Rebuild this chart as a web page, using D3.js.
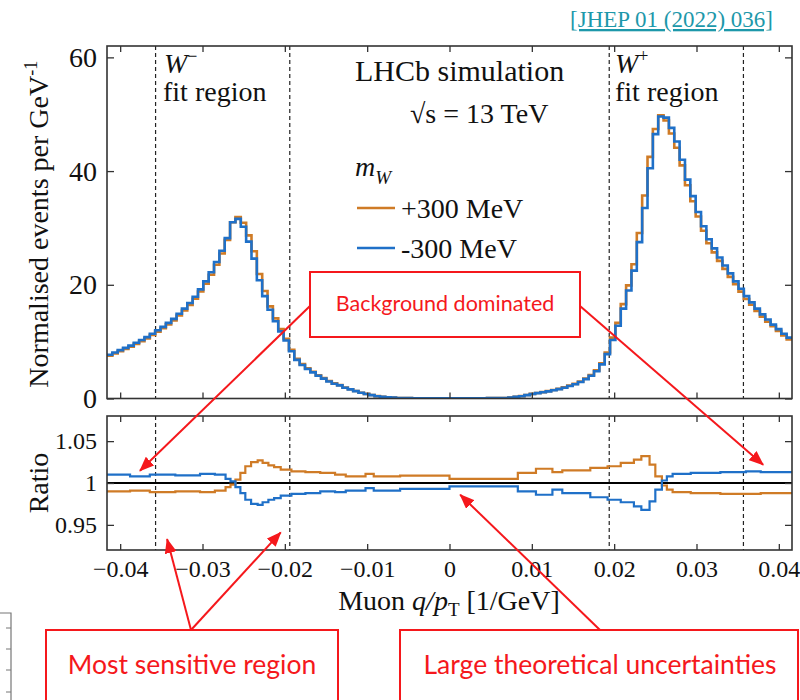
<!DOCTYPE html>
<html lang="en">
<head>
<meta charset="UTF-8">
<title>Muon q/pT</title>
<script src="https://cdn.jsdelivr.net/npm/d3@7"></script>
<style>
    body { margin: 0; background: #fff; }
    svg { display: block; }
</style>
</head>
<body>
<script>
// histogram binning (q/pT in 1/GeV)
var histLo = -0.0416;
var histBinW = 0.00065;

// normalised events per GeV^-1, one value per bin
var minus300 = [
    7.7, 8.1, 8.5, 8.9, 9.3, 9.8, 10.3, 10.8, 11.4, 12.0,
    12.6, 13.3, 14.0, 14.9, 15.8, 16.8, 17.9, 19.2, 20.6, 22.2,
    24.0, 26.0, 28.2, 31.0, 31.6, 30.2, 27.6, 24.6, 20.8, 18.0,
    15.6, 13.6, 11.8, 10.2, 8.3, 6.8, 5.9, 5.2, 4.6, 4.0,
    3.5, 3.0, 2.6, 2.3, 1.9, 1.6, 1.3, 1.0, 0.8, 0.6,
    0.4, 0.3, 0.2, 0.15, 0.1, 0.08, 0.06, 0.05, 0.05, 0.05,
    0.05, 0.05, 0.05, 0.05, 0.05, 0.05, 0.05, 0.05, 0.05, 0.05,
    0.05, 0.06, 0.08, 0.1, 0.1, 0.15, 0.3, 0.4, 0.6, 0.8,
    0.95, 1.1, 1.25, 1.45, 1.65, 1.9, 2.2, 2.5, 2.9, 3.4,
    4.0, 4.8, 6.0, 7.8, 10.3, 12.8, 15.8, 19.0, 22.5, 27.5,
    33.5, 40.5, 46.5, 49.6, 49.4, 47.6, 45.2, 42.0, 38.5, 35.6,
    32.8, 30.3, 28.0, 26.4, 24.8, 23.4, 22.0, 20.6, 19.3, 18.0,
    16.9, 15.8, 14.8, 13.9, 13.0, 12.2, 11.4, 10.7
];
var plus300 = [
    7.55, 7.94, 8.33, 8.72, 9.11, 9.6, 10.1, 10.58, 11.17, 11.76,
    12.35, 13.03, 13.72, 14.6, 15.48, 16.46, 17.54, 18.82, 20.19, 21.76,
    23.52, 25.5, 27.9, 31.0, 31.9, 30.9, 28.7, 25.9, 21.9, 18.9,
    16.2, 14.1, 12.2, 10.5, 8.55, 7.0, 6.05, 5.33, 4.71, 4.1,
    3.58, 3.07, 2.66, 2.35, 1.94, 1.63, 1.33, 1.02, 0.82, 0.61,
    0.41, 0.31, 0.2, 0.15, 0.1, 0.08, 0.06, 0.05, 0.05, 0.05,
    0.05, 0.05, 0.05, 0.05, 0.05, 0.05, 0.05, 0.05, 0.05, 0.05,
    0.05, 0.06, 0.08, 0.1, 0.1, 0.15, 0.31, 0.41, 0.62, 0.82,
    0.98, 1.13, 1.29, 1.49, 1.7, 1.95, 2.26, 2.57, 2.98, 3.5,
    4.12, 4.95, 6.2, 8.1, 10.7, 13.3, 16.6, 19.9, 23.6, 29.1,
    35.7, 42.5, 47.4, 49.8, 48.9, 46.6, 44.1, 41.0, 37.5, 34.7,
    32.0, 29.5, 27.3, 25.7, 24.2, 22.8, 21.4, 20.1, 18.8, 17.5,
    16.5, 15.4, 14.4, 13.5, 12.7, 11.9, 11.1, 10.4
];

// ratio panel uses its own (variable) bins
var ratioEdges = [-0.0416, -0.0388, -0.0364, -0.0333, -0.0303, -0.0285, -0.0272, -0.0266, -0.0260,
    -0.0254, -0.0248, -0.0241, -0.0233, -0.0227, -0.0220, -0.0213, -0.0205, -0.0192, -0.0175,
    -0.0157, -0.0139, -0.0126, -0.0102, -0.0092, -0.0060, 0.0, 0.0083, 0.0105, 0.0125, 0.0137,
    0.0171, 0.0192, 0.0208, 0.0224, 0.0233, 0.0243, 0.0250, 0.0258, 0.0264, 0.0271, 0.0293,
    0.0329, 0.0360, 0.0378, 0.0416];
var ratioMinus = [1.010, 1.008, 1.010, 1.009, 1.011, 1.010, 1.005, 1.002, 0.995, 0.988,
    0.980, 0.975, 0.974, 0.977, 0.980, 0.982, 0.985, 0.987, 0.988, 0.990,
    0.989, 0.991, 0.994, 0.991, 0.993, 0.996, 0.990, 0.986, 0.992, 0.988,
    0.983, 0.980, 0.977, 0.972, 0.968, 0.978, 0.992, 1.003, 1.008, 1.011,
    1.012, 1.013, 1.014, 1.013];
var ratioPlus = [0.990, 0.991, 0.989, 0.990, 0.989, 0.991, 0.995, 0.998, 1.004, 1.012,
    1.020, 1.025, 1.027, 1.024, 1.021, 1.019, 1.016, 1.014, 1.013, 1.012,
    1.010, 1.008, 1.011, 1.008, 1.0087, 1.005, 1.012, 1.017, 1.013, 1.015,
    1.018, 1.020, 1.024, 1.028, 1.032, 1.022, 1.008, 0.997, 0.992, 0.989,
    0.988, 0.987, 0.987, 0.988];

// fit region boundaries
var fitEdges = [-0.0357, -0.0194, 0.0194, 0.0357];

var xTicks = [-0.04, -0.03, -0.02, -0.01, 0, 0.01, 0.02, 0.03, 0.04];
var xTickLabels = ["\u22120.04", "\u22120.03", "\u22120.02", "\u22120.01", "0", "0.01", "0.02", "0.03", "0.04"];
var yTicks = [0, 20, 40, 60];
var rTicks = [0.95, 1, 1.05];
var rTickLabels = ["0.95", "1", "1.05"];

var width = 800, height = 700;
var serif = "'Liberation Serif','Times New Roman',serif";
var sans = "Lato,'Open Sans',sans-serif";
var orange = "#cf7b26", blue = "#1f70c8", red = "#f5181c";

var svg = d3.select("body").append("svg")
        .attr("width", width)
        .attr("height", height);

var defs = svg.append("defs");
defs.append("marker").attr("id", "arrow")
        .attr("markerUnits", "userSpaceOnUse")
        .attr("markerWidth", 16).attr("markerHeight", 12)
        .attr("refX", 14).attr("refY", 6)
        .attr("orient", "auto")
        .append("path").attr("d", "M0,0L15,6L0,12Z").attr("fill", red);

var left = 107, right = 792;
var topT = 46, botT = 398.5;   // top panel
var topR = 416, botR = 550;    // ratio panel

var x = d3.scaleLinear().domain([-0.0416, 0.0416]).range([left, right]);
var y = d3.scaleLinear().domain([0, 62]).range([botT, topT]);
var yr = d3.scaleLinear().domain([0.92, 1.08]).range([botR, topR]);

defs.append("clipPath").attr("id", "clipT").append("rect")
        .attr("x", left).attr("y", topT).attr("width", right - left).attr("height", botT - topT);
defs.append("clipPath").attr("id", "clipR").append("rect")
        .attr("x", left).attr("y", topR).attr("width", right - left).attr("height", botR - topR);

var histEdges = d3.range(minus300.length + 1).map(function (i) { return histLo + i * histBinW; });

function stepPoints(edges, vals) {
    var pts = vals.map(function (v, i) { return [edges[i], v]; });
    pts.push([edges[vals.length], vals[vals.length - 1]]);
    return pts;
}

// ---------- top panel ----------
var gT = svg.append("g");
fitEdges.forEach(function (f) {
    gT.append("line").attr("x1", x(f)).attr("x2", x(f)).attr("y1", topT).attr("y2", botT)
            .attr("stroke", "#222").attr("stroke-width", 1.2).attr("stroke-dasharray", "4,3");
});

var lineT = d3.line().x(function (d) { return x(d[0]); }).y(function (d) { return y(d[1]); })
        .curve(d3.curveStepAfter);
var curvesT = gT.append("g").attr("clip-path", "url(#clipT)");
curvesT.append("path").attr("d", lineT(stepPoints(histEdges, plus300)))
        .attr("fill", "none").attr("stroke", orange).attr("stroke-width", 2.6);
curvesT.append("path").attr("d", lineT(stepPoints(histEdges, minus300)))
        .attr("fill", "none").attr("stroke", blue).attr("stroke-width", 2.6);

function styleAxis(g, size) {
    g.select(".domain").remove();
    g.selectAll(".tick line").attr("stroke", "#333").attr("stroke-width", 1.3);
    g.selectAll(".tick text").attr("fill", "#111").style("font-family", serif).style("font-size", size + "px");
}

gT.append("g").attr("transform", "translate(" + left + ",0)")
        .call(d3.axisLeft(y).tickValues(yTicks).tickSize(-7).tickPadding(10))
        .call(styleAxis, 28);
gT.append("g").attr("transform", "translate(" + right + ",0)")
        .call(d3.axisRight(y).tickValues(yTicks).tickSize(-7).tickFormat(""))
        .call(styleAxis, 28);
gT.append("g").attr("transform", "translate(0," + botT + ")")
        .call(d3.axisBottom(x).tickValues(xTicks).tickSize(-6).tickFormat(""))
        .call(styleAxis, 24);
gT.append("g").attr("transform", "translate(0," + topT + ")")
        .call(d3.axisTop(x).tickValues(xTicks).tickSize(-6).tickFormat(""))
        .call(styleAxis, 24);
gT.append("rect").attr("x", left).attr("y", topT).attr("width", right - left).attr("height", botT - topT)
        .attr("fill", "none").attr("stroke", "#333").attr("stroke-width", 1.6);

// ---------- ratio panel ----------
var gR = svg.append("g");
fitEdges.forEach(function (f) {
    gR.append("line").attr("x1", x(f)).attr("x2", x(f)).attr("y1", topR).attr("y2", botR)
            .attr("stroke", "#222").attr("stroke-width", 1.2).attr("stroke-dasharray", "4,3");
});
var lineR = d3.line().x(function (d) { return x(d[0]); }).y(function (d) { return yr(d[1]); })
        .curve(d3.curveStepAfter);
var curvesR = gR.append("g").attr("clip-path", "url(#clipR)");
curvesR.append("line").attr("x1", left).attr("x2", right).attr("y1", yr(1)).attr("y2", yr(1))
        .attr("stroke", "#000").attr("stroke-width", 2);
curvesR.append("path").attr("d", lineR(stepPoints(ratioEdges, ratioPlus)))
        .attr("fill", "none").attr("stroke", orange).attr("stroke-width", 2.2);
curvesR.append("path").attr("d", lineR(stepPoints(ratioEdges, ratioMinus)))
        .attr("fill", "none").attr("stroke", blue).attr("stroke-width", 2.2);

gR.append("g").attr("transform", "translate(" + left + ",0)")
        .call(d3.axisLeft(yr).tickValues(rTicks).tickSize(-7).tickPadding(10)
                .tickFormat(function (d, i) { return rTickLabels[i]; }))
        .call(styleAxis, 24);
gR.append("g").attr("transform", "translate(" + right + ",0)")
        .call(d3.axisRight(yr).tickValues(rTicks).tickSize(-7).tickFormat(""))
        .call(styleAxis, 24);
gR.append("g").attr("transform", "translate(0," + botR + ")")
        .call(d3.axisBottom(x).tickValues(xTicks).tickSize(-6).tickPadding(10)
                .tickFormat(function (d, i) { return xTickLabels[i]; }))
        .call(styleAxis, 24);
gR.append("g").attr("transform", "translate(0," + topR + ")")
        .call(d3.axisTop(x).tickValues(xTicks).tickSize(-6).tickFormat(""))
        .call(styleAxis, 24);
gR.append("rect").attr("x", left).attr("y", topR).attr("width", right - left).attr("height", botR - topR)
        .attr("fill", "none").attr("stroke", "#333").attr("stroke-width", 1.6);

// ---------- axis titles ----------
var yTitle = svg.append("text").attr("transform", "translate(48," + ((topT + botT) / 2 + 2) + ") rotate(-90)")
        .attr("text-anchor", "middle").style("font-family", serif).style("font-size", "28px").attr("fill", "#111");
yTitle.append("tspan").text("Normalised events per GeV");
yTitle.append("tspan").attr("dy", -11).style("font-size", "18px").text("-1");

svg.append("text").attr("transform", "translate(48," + yr(1) + ") rotate(-90)")
        .attr("text-anchor", "middle").style("font-family", serif).style("font-size", "28px").attr("fill", "#111")
        .text("Ratio");

var xTitle = svg.append("text").attr("x", 449).attr("y", 610).attr("text-anchor", "middle")
        .style("font-family", serif).style("font-size", "28px").attr("fill", "#111");
xTitle.append("tspan").text("Muon ");
xTitle.append("tspan").style("font-style", "italic").text("q/p");
xTitle.append("tspan").attr("dy", 6).style("font-size", "19px").text("T");
xTitle.append("tspan").attr("dy", -6).text(" [1/GeV]");

// ---------- in-plot labels ----------
function label(xp, yp, size) {
    return svg.append("text").attr("x", xp).attr("y", yp)
            .style("font-family", serif).style("font-size", size + "px").attr("fill", "#111");
}
var wm = label(164, 73, 28);
wm.append("tspan").style("font-style", "italic").text("W");
wm.append("tspan").attr("dy", -11).style("font-size", "18px").text("\u2212");
label(163, 101, 28).text("fit region");

var wp = label(615, 73, 28);
wp.append("tspan").style("font-style", "italic").text("W");
wp.append("tspan").attr("dy", -11).style("font-size", "18px").text("+");
label(615, 101, 28).text("fit region");

label(355, 81, 30).text("LHCb simulation");
label(410, 123, 28).text("\u221As = 13 TeV");

var mw = label(355, 176, 28);
mw.append("tspan").style("font-style", "italic").text("m");
mw.append("tspan").attr("dy", 8).style("font-size", "19px").style("font-style", "italic").text("W");

var legend = [{name: "+300 MeV", color: orange, yp: 208}, {name: "-300 MeV", color: blue, yp: 248}];
legend.forEach(function (d) {
    svg.append("line").attr("x1", 357).attr("x2", 395).attr("y1", d.yp).attr("y2", d.yp)
            .attr("stroke", d.color).attr("stroke-width", 2.6);
    label(401, d.yp + 10, 28).text(d.name);
});

// reference link
svg.append("text").attr("x", 773).attr("y", 27).attr("text-anchor", "end")
        .style("font-family", serif).style("font-size", "23px").attr("fill", "#1d98aa")
        .style("text-decoration", "underline").text("[JHEP 01 (2022) 036]");

// ---------- annotations ----------
function box(bx, by, bw, bh, txt, tx, ty, size) {
    svg.append("rect").attr("x", bx).attr("y", by).attr("width", bw).attr("height", bh)
            .attr("fill", "#fff").attr("stroke", red).attr("stroke-width", 2);
    svg.append("text").attr("x", tx).attr("y", ty).attr("text-anchor", "middle")
            .style("font-family", sans).style("font-size", size + "px").attr("fill", red).text(txt);
}
function arrow(x1, y1, x2, y2) {
    svg.append("line").attr("x1", x1).attr("y1", y1).attr("x2", x2).attr("y2", y2)
            .attr("stroke", red).attr("stroke-width", 2).attr("marker-end", "url(#arrow)");
}

arrow(310, 306, x(-0.0376), yr(1.0146));
arrow(580, 306, x(0.0381), yr(1.0217));
box(310, 272, 270, 65, "Background dominated", 445, 311, 21.5);

arrow(191, 630, x(-0.0343), yr(0.933));
arrow(191, 630, x(-0.0205), yr(0.941));
arrow(600, 630, x(0.0013), yr(0.986));
box(46, 630, 292, 90, "Most sensitive region", 192, 674, 26.5);
box(400, 630, 398, 90, "Large theoretical uncertainties", 600, 674, 26.5);

// stub of a neighbouring frame at the bottom-left corner
svg.append("path").attr("d", "M0,613H11V700").attr("fill", "none").attr("stroke", "#777").attr("stroke-width", 1.2);
[628, 649, 670, 692].forEach(function (t) {
    svg.append("line").attr("x1", 6).attr("x2", 11).attr("y1", t).attr("y2", t)
            .attr("stroke", "#777").attr("stroke-width", 1);
});
</script>
</body>
</html>
